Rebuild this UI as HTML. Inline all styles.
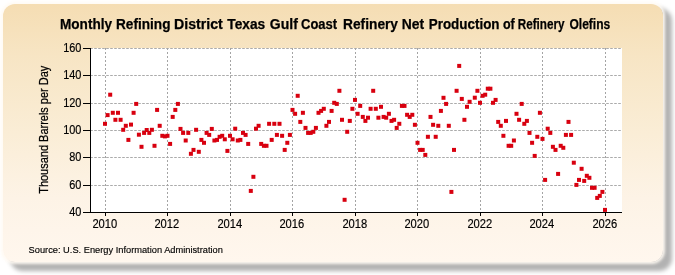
<!DOCTYPE html>
<html><head><meta charset="utf-8"><style>
html,body{margin:0;padding:0;background:#fff;width:675px;height:275px;overflow:hidden}
.shadow{position:absolute;left:10px;top:8px;width:662px;height:263px;border-radius:13px;background:rgba(0,0,0,0.30);filter:blur(2px)}
.panel{position:absolute;left:3px;top:4px;width:660px;height:258px;border-radius:12px;
background:linear-gradient(180deg,#f5ddb3 0%,#f7e5c4 20%,#faedd6 50%,#fdf3e6 75%,#fff7ee 100%);
box-shadow:0 0 3px 1.5px rgba(255,250,242,0.95)}
svg{position:absolute;left:0;top:0;will-change:transform}
text{font-family:"Liberation Sans",sans-serif;fill:#000;stroke:#000;stroke-width:0.25px}
.tl{font-size:12.3px;stroke-width:0.18px}
.g{stroke:#ababab;stroke-width:1;stroke-dasharray:2.6 1.4;stroke-dashoffset:0.8}
.gv{stroke:#a4a4a4;stroke-width:1;stroke-dasharray:2 2}
.ax{stroke:#000;stroke-width:1}
</style></head><body>
<div class="shadow"></div><div class="panel"></div>
<svg width="675" height="275" viewBox="0 0 675 275">
<rect x="91" y="48" width="531" height="164" fill="#fff"/>
<line x1="91" y1="185.5" x2="622" y2="185.5" class="g"/><line x1="91" y1="157.5" x2="622" y2="157.5" class="g"/><line x1="91" y1="130.5" x2="622" y2="130.5" class="g"/><line x1="91" y1="103.5" x2="622" y2="103.5" class="g"/><line x1="91" y1="75.5" x2="622" y2="75.5" class="g"/><line x1="91" y1="48.5" x2="622" y2="48.5" class="g"/><line x1="105.5" y1="48" x2="105.5" y2="212" class="gv"/><line x1="167.5" y1="48" x2="167.5" y2="212" class="gv"/><line x1="230.5" y1="48" x2="230.5" y2="212" class="gv"/><line x1="292.5" y1="48" x2="292.5" y2="212" class="gv"/><line x1="355.5" y1="48" x2="355.5" y2="212" class="gv"/><line x1="417.5" y1="48" x2="417.5" y2="212" class="gv"/><line x1="480.5" y1="48" x2="480.5" y2="212" class="gv"/><line x1="542.5" y1="48" x2="542.5" y2="212" class="gv"/><line x1="605.5" y1="48" x2="605.5" y2="212" class="gv"/>
<line x1="90.5" y1="48" x2="90.5" y2="212.5" class="ax"/>
<line x1="90" y1="212.5" x2="622" y2="212.5" class="ax"/>
<line x1="83" y1="212.5" x2="91" y2="212.5" class="ax"/><line x1="83" y1="185.5" x2="91" y2="185.5" class="ax"/><line x1="83" y1="157.5" x2="91" y2="157.5" class="ax"/><line x1="83" y1="130.5" x2="91" y2="130.5" class="ax"/><line x1="83" y1="103.5" x2="91" y2="103.5" class="ax"/><line x1="83" y1="75.5" x2="91" y2="75.5" class="ax"/><line x1="83" y1="48.5" x2="91" y2="48.5" class="ax"/><line x1="105.5" y1="212" x2="105.5" y2="216" class="ax"/><line x1="167.5" y1="212" x2="167.5" y2="216" class="ax"/><line x1="230.5" y1="212" x2="230.5" y2="216" class="ax"/><line x1="292.5" y1="212" x2="292.5" y2="216" class="ax"/><line x1="355.5" y1="212" x2="355.5" y2="216" class="ax"/><line x1="417.5" y1="212" x2="417.5" y2="216" class="ax"/><line x1="480.5" y1="212" x2="480.5" y2="216" class="ax"/><line x1="542.5" y1="212" x2="542.5" y2="216" class="ax"/><line x1="605.5" y1="212" x2="605.5" y2="216" class="ax"/>
<text x="81.45" y="215.9" text-anchor="end" class="tl" textLength="12.17" lengthAdjust="spacingAndGlyphs">40</text><text x="81.45" y="188.9" text-anchor="end" class="tl" textLength="12.17" lengthAdjust="spacingAndGlyphs">60</text><text x="81.45" y="160.9" text-anchor="end" class="tl" textLength="12.17" lengthAdjust="spacingAndGlyphs">80</text><text x="81.45" y="133.9" text-anchor="end" class="tl" textLength="18.26" lengthAdjust="spacingAndGlyphs">100</text><text x="81.45" y="106.9" text-anchor="end" class="tl" textLength="18.26" lengthAdjust="spacingAndGlyphs">120</text><text x="81.45" y="78.9" text-anchor="end" class="tl" textLength="18.26" lengthAdjust="spacingAndGlyphs">140</text><text x="81.45" y="51.9" text-anchor="end" class="tl" textLength="18.26" lengthAdjust="spacingAndGlyphs">160</text><text x="104.8" y="228" text-anchor="middle" class="tl" textLength="24.84" lengthAdjust="spacingAndGlyphs">2010</text><text x="166.8" y="228" text-anchor="middle" class="tl" textLength="24.84" lengthAdjust="spacingAndGlyphs">2012</text><text x="229.8" y="228" text-anchor="middle" class="tl" textLength="24.84" lengthAdjust="spacingAndGlyphs">2014</text><text x="291.8" y="228" text-anchor="middle" class="tl" textLength="24.84" lengthAdjust="spacingAndGlyphs">2016</text><text x="354.8" y="228" text-anchor="middle" class="tl" textLength="24.84" lengthAdjust="spacingAndGlyphs">2018</text><text x="416.8" y="228" text-anchor="middle" class="tl" textLength="24.84" lengthAdjust="spacingAndGlyphs">2020</text><text x="479.8" y="228" text-anchor="middle" class="tl" textLength="24.84" lengthAdjust="spacingAndGlyphs">2022</text><text x="541.8" y="228" text-anchor="middle" class="tl" textLength="24.84" lengthAdjust="spacingAndGlyphs">2024</text><text x="604.8" y="228" text-anchor="middle" class="tl" textLength="24.84" lengthAdjust="spacingAndGlyphs">2026</text>
<text x="60.03" y="29" font-weight="bold" font-size="14" textLength="52.04" lengthAdjust="spacingAndGlyphs">Monthly</text><text x="116.03" y="29" font-weight="bold" font-size="14" textLength="54.44" lengthAdjust="spacingAndGlyphs">Refining</text><text x="174.09" y="29" font-weight="bold" font-size="14" textLength="48.75" lengthAdjust="spacingAndGlyphs">District</text><text x="227.30" y="29" font-weight="bold" font-size="14" textLength="37.96" lengthAdjust="spacingAndGlyphs">Texas</text><text x="269.80" y="29" font-weight="bold" font-size="14" textLength="28.00" lengthAdjust="spacingAndGlyphs">Gulf</text><text x="301.07" y="29" font-weight="bold" font-size="14" textLength="36.04" lengthAdjust="spacingAndGlyphs">Coast</text><text x="343.02" y="29" font-weight="bold" font-size="14" textLength="55.01" lengthAdjust="spacingAndGlyphs">Refinery</text><text x="401.71" y="29" font-weight="bold" font-size="14" textLength="22.36" lengthAdjust="spacingAndGlyphs">Net</text><text x="428.74" y="29" font-weight="bold" font-size="14" textLength="70.81" lengthAdjust="spacingAndGlyphs">Production</text><text x="502.90" y="29" font-weight="bold" font-size="14" textLength="11.80" lengthAdjust="spacingAndGlyphs">of</text><text x="517.77" y="29" font-weight="bold" font-size="14" textLength="46.76" lengthAdjust="spacingAndGlyphs">Refinery</text><text x="569.44" y="29" font-weight="bold" font-size="14" textLength="40.86" lengthAdjust="spacingAndGlyphs">Olefins</text>
<text transform="translate(47.6,193.8) rotate(-90)" font-size="12.4" textLength="128.1" lengthAdjust="spacingAndGlyphs">Thousand Barrels per Day</text>
<text x="28.6" y="253" font-size="9.4" style="stroke-width:0.15px" textLength="194.3" lengthAdjust="spacingAndGlyphs">Source: U.S. Energy Information Administration</text>
<g fill="#d8000f"><rect x="103.0" y="121.8" width="4" height="4"/><rect x="105.6" y="113.1" width="4" height="4"/><rect x="108.2" y="92.7" width="4" height="4"/><rect x="110.8" y="110.8" width="4" height="4"/><rect x="113.4" y="117.8" width="4" height="4"/><rect x="116.0" y="110.8" width="4" height="4"/><rect x="118.6" y="117.8" width="4" height="4"/><rect x="121.2" y="127.8" width="4" height="4"/><rect x="123.8" y="123.8" width="4" height="4"/><rect x="126.4" y="137.9" width="4" height="4"/><rect x="129.0" y="122.6" width="4" height="4"/><rect x="131.6" y="110.8" width="4" height="4"/><rect x="134.2" y="101.9" width="4" height="4"/><rect x="136.9" y="132.7" width="4" height="4"/><rect x="139.5" y="144.8" width="4" height="4"/><rect x="142.1" y="130.9" width="4" height="4"/><rect x="144.7" y="128.0" width="4" height="4"/><rect x="147.3" y="130.9" width="4" height="4"/><rect x="149.9" y="127.8" width="4" height="4"/><rect x="152.5" y="143.8" width="4" height="4"/><rect x="155.1" y="107.9" width="4" height="4"/><rect x="157.7" y="123.8" width="4" height="4"/><rect x="160.3" y="133.8" width="4" height="4"/><rect x="162.9" y="134.4" width="4" height="4"/><rect x="165.5" y="133.8" width="4" height="4"/><rect x="168.1" y="141.9" width="4" height="4"/><rect x="170.7" y="114.9" width="4" height="4"/><rect x="173.3" y="107.9" width="4" height="4"/><rect x="175.9" y="101.9" width="4" height="4"/><rect x="178.5" y="126.9" width="4" height="4"/><rect x="181.1" y="130.9" width="4" height="4"/><rect x="183.7" y="138.5" width="4" height="4"/><rect x="186.3" y="130.9" width="4" height="4"/><rect x="188.9" y="151.8" width="4" height="4"/><rect x="191.5" y="147.9" width="4" height="4"/><rect x="194.1" y="127.8" width="4" height="4"/><rect x="196.8" y="149.8" width="4" height="4"/><rect x="199.4" y="137.9" width="4" height="4"/><rect x="202.0" y="140.8" width="4" height="4"/><rect x="204.6" y="130.9" width="4" height="4"/><rect x="207.2" y="132.9" width="4" height="4"/><rect x="209.8" y="126.9" width="4" height="4"/><rect x="212.4" y="138.5" width="4" height="4"/><rect x="215.0" y="137.9" width="4" height="4"/><rect x="217.6" y="134.8" width="4" height="4"/><rect x="220.2" y="133.8" width="4" height="4"/><rect x="222.8" y="137.3" width="4" height="4"/><rect x="225.4" y="148.9" width="4" height="4"/><rect x="228.0" y="133.8" width="4" height="4"/><rect x="230.6" y="137.3" width="4" height="4"/><rect x="233.2" y="126.7" width="4" height="4"/><rect x="235.8" y="138.5" width="4" height="4"/><rect x="238.4" y="137.9" width="4" height="4"/><rect x="241.0" y="130.9" width="4" height="4"/><rect x="243.6" y="132.9" width="4" height="4"/><rect x="246.2" y="141.9" width="4" height="4"/><rect x="248.8" y="188.9" width="4" height="4"/><rect x="251.4" y="174.8" width="4" height="4"/><rect x="254.0" y="126.7" width="4" height="4"/><rect x="256.6" y="123.8" width="4" height="4"/><rect x="259.2" y="141.9" width="4" height="4"/><rect x="261.9" y="143.8" width="4" height="4"/><rect x="264.5" y="143.8" width="4" height="4"/><rect x="267.1" y="121.8" width="4" height="4"/><rect x="269.7" y="137.9" width="4" height="4"/><rect x="272.3" y="121.8" width="4" height="4"/><rect x="274.9" y="132.9" width="4" height="4"/><rect x="277.5" y="121.8" width="4" height="4"/><rect x="280.1" y="133.8" width="4" height="4"/><rect x="282.7" y="147.9" width="4" height="4"/><rect x="285.3" y="140.8" width="4" height="4"/><rect x="287.9" y="132.9" width="4" height="4"/><rect x="290.5" y="107.9" width="4" height="4"/><rect x="293.1" y="111.8" width="4" height="4"/><rect x="295.7" y="93.8" width="4" height="4"/><rect x="298.3" y="119.9" width="4" height="4"/><rect x="300.9" y="110.8" width="4" height="4"/><rect x="303.5" y="125.9" width="4" height="4"/><rect x="306.1" y="130.9" width="4" height="4"/><rect x="308.7" y="130.9" width="4" height="4"/><rect x="311.3" y="129.8" width="4" height="4"/><rect x="313.9" y="125.9" width="4" height="4"/><rect x="316.5" y="110.8" width="4" height="4"/><rect x="319.1" y="108.9" width="4" height="4"/><rect x="321.8" y="106.8" width="4" height="4"/><rect x="324.4" y="123.8" width="4" height="4"/><rect x="327.0" y="119.9" width="4" height="4"/><rect x="329.6" y="108.9" width="4" height="4"/><rect x="332.2" y="100.8" width="4" height="4"/><rect x="334.8" y="101.9" width="4" height="4"/><rect x="337.4" y="88.8" width="4" height="4"/><rect x="340.0" y="117.8" width="4" height="4"/><rect x="342.6" y="197.8" width="4" height="4"/><rect x="345.2" y="129.8" width="4" height="4"/><rect x="347.8" y="118.9" width="4" height="4"/><rect x="350.4" y="106.8" width="4" height="4"/><rect x="353.0" y="97.9" width="4" height="4"/><rect x="355.6" y="111.8" width="4" height="4"/><rect x="358.2" y="103.9" width="4" height="4"/><rect x="360.8" y="114.9" width="4" height="4"/><rect x="363.4" y="118.9" width="4" height="4"/><rect x="366.0" y="115.7" width="4" height="4"/><rect x="368.6" y="106.8" width="4" height="4"/><rect x="371.2" y="88.8" width="4" height="4"/><rect x="373.8" y="106.8" width="4" height="4"/><rect x="376.4" y="115.7" width="4" height="4"/><rect x="379.0" y="104.8" width="4" height="4"/><rect x="381.6" y="114.9" width="4" height="4"/><rect x="384.2" y="115.7" width="4" height="4"/><rect x="386.9" y="111.8" width="4" height="4"/><rect x="389.5" y="118.9" width="4" height="4"/><rect x="392.1" y="117.8" width="4" height="4"/><rect x="394.7" y="125.9" width="4" height="4"/><rect x="397.3" y="121.8" width="4" height="4"/><rect x="399.9" y="103.9" width="4" height="4"/><rect x="402.5" y="103.9" width="4" height="4"/><rect x="405.1" y="112.8" width="4" height="4"/><rect x="407.7" y="114.9" width="4" height="4"/><rect x="410.3" y="112.8" width="4" height="4"/><rect x="412.9" y="122.8" width="4" height="4"/><rect x="415.5" y="140.8" width="4" height="4"/><rect x="418.1" y="147.9" width="4" height="4"/><rect x="420.7" y="147.9" width="4" height="4"/><rect x="423.3" y="152.9" width="4" height="4"/><rect x="425.9" y="134.8" width="4" height="4"/><rect x="428.5" y="114.9" width="4" height="4"/><rect x="431.1" y="122.8" width="4" height="4"/><rect x="433.7" y="134.8" width="4" height="4"/><rect x="436.3" y="123.8" width="4" height="4"/><rect x="438.9" y="108.9" width="4" height="4"/><rect x="441.5" y="95.8" width="4" height="4"/><rect x="444.1" y="101.9" width="4" height="4"/><rect x="446.8" y="123.8" width="4" height="4"/><rect x="449.4" y="189.9" width="4" height="4"/><rect x="452.0" y="147.9" width="4" height="4"/><rect x="454.6" y="88.8" width="4" height="4"/><rect x="457.2" y="63.9" width="4" height="4"/><rect x="459.8" y="96.9" width="4" height="4"/><rect x="462.4" y="117.8" width="4" height="4"/><rect x="465.0" y="104.8" width="4" height="4"/><rect x="467.6" y="99.8" width="4" height="4"/><rect x="472.8" y="95.7" width="4" height="4"/><rect x="475.4" y="88.8" width="4" height="4"/><rect x="478.0" y="100.8" width="4" height="4"/><rect x="480.6" y="93.8" width="4" height="4"/><rect x="483.2" y="92.7" width="4" height="4"/><rect x="485.8" y="86.7" width="4" height="4"/><rect x="488.4" y="86.7" width="4" height="4"/><rect x="491.0" y="100.8" width="4" height="4"/><rect x="493.6" y="97.9" width="4" height="4"/><rect x="496.2" y="119.9" width="4" height="4"/><rect x="498.8" y="123.8" width="4" height="4"/><rect x="501.4" y="133.8" width="4" height="4"/><rect x="504.0" y="118.9" width="4" height="4"/><rect x="506.6" y="143.8" width="4" height="4"/><rect x="509.2" y="143.8" width="4" height="4"/><rect x="511.9" y="138.5" width="4" height="4"/><rect x="514.5" y="111.8" width="4" height="4"/><rect x="517.1" y="117.8" width="4" height="4"/><rect x="519.7" y="101.9" width="4" height="4"/><rect x="522.3" y="121.8" width="4" height="4"/><rect x="524.9" y="118.9" width="4" height="4"/><rect x="527.5" y="130.9" width="4" height="4"/><rect x="530.1" y="140.8" width="4" height="4"/><rect x="532.7" y="153.9" width="4" height="4"/><rect x="535.3" y="134.8" width="4" height="4"/><rect x="537.9" y="110.8" width="4" height="4"/><rect x="540.5" y="136.9" width="4" height="4"/><rect x="543.1" y="177.9" width="4" height="4"/><rect x="545.7" y="126.7" width="4" height="4"/><rect x="548.3" y="130.9" width="4" height="4"/><rect x="550.9" y="144.8" width="4" height="4"/><rect x="553.5" y="147.9" width="4" height="4"/><rect x="556.1" y="171.9" width="4" height="4"/><rect x="558.7" y="143.8" width="4" height="4"/><rect x="561.3" y="145.8" width="4" height="4"/><rect x="563.9" y="132.9" width="4" height="4"/><rect x="566.5" y="119.9" width="4" height="4"/><rect x="569.1" y="132.9" width="4" height="4"/><rect x="571.8" y="160.7" width="4" height="4"/><rect x="574.4" y="182.9" width="4" height="4"/><rect x="577.0" y="177.9" width="4" height="4"/><rect x="579.6" y="166.8" width="4" height="4"/><rect x="582.2" y="178.9" width="4" height="4"/><rect x="584.8" y="173.8" width="4" height="4"/><rect x="587.4" y="175.8" width="4" height="4"/><rect x="590.0" y="185.8" width="4" height="4"/><rect x="592.6" y="185.8" width="4" height="4"/><rect x="595.2" y="195.9" width="4" height="4"/><rect x="597.8" y="193.9" width="4" height="4"/><rect x="600.4" y="189.9" width="4" height="4"/><rect x="603.0" y="207.9" width="4" height="4"/></g>
</svg>
</body></html>
